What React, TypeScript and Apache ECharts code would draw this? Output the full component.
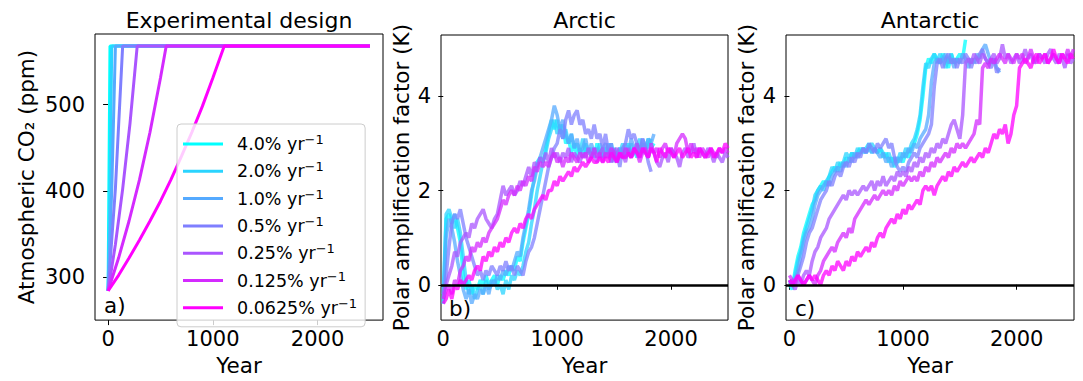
import React, { useEffect, useRef } from "react";
import * as echarts from "echarts";

const FONT = "DejaVu Sans";
const RATES = ["4.0%", "2.0%", "1.0%", "0.5%", "0.25%", "0.125%", "0.0625%"];
const COLORS = ["#00ffff", "#2ad4ff", "#55aaff", "#7f7fff", "#aa55ff", "#d42aff", "#ff00ff"];

// Panel a: CO2 ramps (year, ppm)
const CO2_YEARS = [
  [0, 18, 2500],
  [0, 18, 35, 2500],
  [0, 35, 70, 2500],
  [0, 70, 139, 2500],
  [0, 70, 139, 209, 278, 2500],
  [0, 100, 200, 300, 400, 500, 555, 2500],
  [0, 100, 200, 300, 400, 500, 600, 700, 800, 900, 1000, 1109, 2500],
];
const CO2_PPM = [
  [284, 568, 568],
  [284, 404, 568, 568],
  [284, 402, 568, 568],
  [284, 403, 568, 568],
  [284, 338, 402, 478, 568, 568],
  [284, 322, 365, 413, 468, 531, 568, 568],
  [284, 302, 322, 343, 365, 388, 413, 440, 468, 498, 531, 568, 568],
];

// Panels b, c: values every 25 years starting at year 0
const YEAR_STEP = 25;

const ARCTIC_40 = [-0.4,1.4,1.5,1.3,1.5,1.2,0.9,0.2,-0.1,0.1,-0.2,0.0,-0.1,0.1,0.0,0.2,0.0,0.1,0.2,0.0,0.2,0.1,0.3,0.2,0.4,0.3,0.6,0.5,0.9,1.2,1.5,1.9,2.3,2.6,2.7,2.6,2.9,3.2,3.5,3.3,3.5,3.2,3.4,3.0,3.1,2.8,3.0,2.7,2.9,2.7,3.0,2.8,2.9,2.7,3.0,2.8,2.7,2.9,2.8,3.0,2.7,2.8,2.9,2.7,2.8,3.0,2.8,2.9,2.7,2.9,3.0,2.8,3.1,2.9,3.0];
const ARCTIC_20 = [-0.2,1.5,1.6,1.4,1.2,1.4,1.1,0.6,0.1,-0.2,0.0,-0.3,-0.1,0.0,-0.2,0.1,-0.1,0.0,0.1,-0.1,0.0,-0.2,0.1,-0.1,0.2,0.1,0.3,0.2,0.4,0.7,0.9,1.3,1.6,2.0,2.3,2.6,2.8,3.1,3.3,3.5,3.2,3.4,3.1,3.3,3.0,3.2,2.9,3.0,2.8,3.1,2.8,2.9,2.7,2.9,2.8,3.0,2.7,2.8,3.0,2.7,2.9,2.6,2.8,3.0,2.7,2.8,3.0,2.8,2.9,3.1,2.8,3.0,2.9,3.1];
const ARCTIC_10 = [-0.4,1.0,1.4,1.2,0.9,0.5,0.2,-0.1,-0.3,-0.1,-0.4,-0.2,-0.3,-0.1,-0.2,0.0,-0.2,0.1,0.0,0.2,0.1,0.3,0.2,0.4,0.3,0.5,0.7,0.6,1.0,1.3,1.6,2.0,2.2,2.5,2.7,2.9,3.1,3.3,3.5,3.8,3.6,3.3,3.5,3.2,3.0,3.2,2.9,3.1,2.8,2.9,3.1,2.8,3.0,2.8,2.9,2.7,2.9,3.0,2.8,2.6,2.9,2.7,2.9,2.8,3.0,2.8,3.1,2.9,3.0,2.8,3.1,2.9,3.1,3.0,3.2];
const ARCTIC_05 = [-0.3,0.2,0.8,1.3,1.5,1.4,1.6,1.3,1.0,0.8,0.6,0.4,0.2,0.3,0.1,0.3,0.2,0.4,0.3,0.2,0.4,0.3,0.5,0.3,0.4,0.2,0.4,0.3,0.2,0.5,0.7,0.8,1.0,1.3,1.6,1.9,2.2,2.5,2.7,2.9,3.0,3.3,3.1,3.5,3.7,3.4,3.6,3.7,3.4,3.5,3.2,3.3,3.1,3.4,3.1,3.2,2.9,3.2,2.8,3.0,2.6,2.8,2.5,2.9,3.0,3.3,3.1,3.2,3.0,2.8,3.1,2.9,2.6,2.4];
const ARCTIC_025 = [-0.2,0.0,0.2,0.4,0.7,0.6,0.9,1.0,1.1,1.0,1.3,1.2,1.4,1.5,1.6,1.4,1.3,1.2,1.4,1.5,1.8,2.1,1.9,2.0,2.1,1.9,2.0,2.2,2.1,2.3,2.5,2.3,2.6,2.5,2.7,2.6,2.8,2.6,2.9,2.7,2.8,2.6,2.8,2.7,2.9,2.6,2.8,2.7,2.6,2.8,2.7,2.9,2.7,2.8,2.6,2.8,2.9,2.7,2.8,2.6,2.8,2.9,2.7,2.8,2.6,2.9,2.7,2.8,3.0,2.7,2.9,2.8,2.7,2.9,2.8,2.6,2.5,2.7,2.8,2.6,2.9,2.8,2.7,2.5,2.8,2.9,2.7,2.8,3.0,2.7,2.9,2.8,2.7,2.9,2.8,2.6,2.8,2.7,2.6,2.8,2.7];
const ARCTIC_0125 = [-0.3,-0.1,0.0,-0.2,0.1,0.0,0.3,0.4,0.6,0.5,0.8,0.7,0.9,0.8,1.0,0.9,1.1,1.2,1.3,1.4,1.6,1.8,1.7,1.9,2.0,1.9,2.1,2.0,2.2,2.1,2.3,2.2,2.5,2.4,2.6,2.5,2.6,2.5,2.7,2.8,2.6,2.7,2.5,2.7,2.6,2.8,2.7,2.6,2.8,2.7,2.8,2.6,2.7,2.9,2.7,2.8,2.6,2.8,2.7,2.9,2.8,2.6,2.8,2.7,2.9,2.8,2.7,2.9,2.8,2.6,2.8,2.9,2.7,3.0,2.8,2.9,2.7,2.9,3.0,2.8,2.9,2.7,3.0,3.1,3.2,3.1,2.8,3.0,2.8,2.9,2.7,2.9,2.8,2.7,2.9,2.8,2.7,2.9,2.8,2.9,2.8];
const ARCTIC_00625 = [-0.4,-0.3,-0.1,-0.3,0.0,-0.1,0.1,0.0,0.1,0.2,0.1,0.3,0.4,0.3,0.6,0.5,0.7,0.6,0.8,0.7,0.9,0.8,1.0,0.9,1.1,1.2,1.1,1.3,1.2,1.4,1.5,1.4,1.6,1.7,1.8,1.9,1.8,2.0,2.0,2.2,2.1,2.3,2.2,2.3,2.4,2.3,2.5,2.4,2.5,2.6,2.5,2.6,2.7,2.6,2.6,2.7,2.6,2.7,2.6,2.8,2.7,2.6,2.8,2.7,2.7,2.8,2.7,2.9,2.8,2.7,2.9,2.8,2.7,2.9,2.8,2.6,2.9,2.8,2.7,2.9,2.8,2.7,2.8,2.9,2.7,2.8,2.9,2.7,2.8,2.7,2.9,2.8,2.7,2.8,2.9,2.7,2.8,2.9,2.8,3.0,2.9];

const ANTARCTIC_40 = [0.0,-0.1,0.3,0.6,0.8,1.1,1.3,1.5,1.7,1.8,2.0,2.1,2.2,2.1,2.3,2.4,2.5,2.4,2.6,2.5,2.7,2.6,2.8,2.7,2.8,2.9,2.8,2.9,3.0,2.8,2.9,2.8,2.9,2.7,2.8,2.6,2.7,2.5,2.6,2.7,2.6,2.8,2.7,2.9,3.0,3.2,3.5,4.0,4.6,4.8,4.7,4.9,4.8,4.7,4.9,4.8,4.6,4.9,4.7,4.8,4.9,4.8,5.2];
const ANTARCTIC_20 = [0.1,0.0,0.2,0.5,0.7,1.0,1.2,1.4,1.6,1.9,2.0,2.1,2.0,2.2,2.3,2.5,2.4,2.6,2.5,2.6,2.8,2.7,2.8,2.7,2.9,2.8,2.9,2.8,2.9,3.0,2.9,2.8,2.9,2.8,2.7,2.8,2.6,2.7,2.6,2.8,2.7,2.9,2.8,3.0,3.1,3.3,3.6,4.2,4.7,4.6,4.8,4.9,4.7,4.9,4.8,4.6,4.8,4.9,4.7,4.8,4.7];
const ANTARCTIC_10 = [0.0,0.1,0.1,0.3,0.6,0.9,1.1,1.2,1.4,1.7,1.9,2.0,2.1,2.2,2.1,2.3,2.4,2.5,2.4,2.6,2.5,2.7,2.6,2.8,2.7,2.8,2.9,2.8,2.9,2.8,2.9,2.8,2.7,2.8,2.6,2.7,2.5,2.6,2.7,2.6,2.8,2.7,2.9,2.8,3.0,2.9,3.1,3.2,3.3,3.6,4.3,4.7,4.8,4.7,4.8,4.9,4.7,4.8,4.6,4.8,4.7,4.9,4.8,4.6,4.8,4.7,4.9,4.8,5.0,5.1,4.9,4.7,4.8,4.6,4.5];
const ANTARCTIC_05 = [0.1,0.0,0.1,0.2,0.4,0.6,0.9,1.1,1.2,1.4,1.6,1.8,1.9,2.0,2.2,2.1,2.3,2.4,2.3,2.5,2.6,2.5,2.7,2.6,2.8,2.7,2.9,2.8,3.0,2.9,2.8,3.0,2.9,3.0,3.1,2.9,3.0,2.7,2.5,2.4,2.5,2.4,2.6,2.7,2.8,2.7,2.9,3.0,3.1,3.2,3.4,4.2,4.7,4.8,4.6,4.8,4.9,4.7,4.8,4.6,4.8,4.7,4.9,4.8,4.6,4.8,4.7,4.9,5.0,4.8,4.7,4.6,4.8,4.5,4.6];
const ANTARCTIC_025 = [0.1,0.0,-0.1,0.1,0.0,0.2,0.3,0.2,0.5,0.7,0.8,1.0,1.1,1.2,1.4,1.5,1.6,1.7,1.8,1.9,1.8,2.0,1.9,2.0,1.9,2.0,2.1,2.0,2.1,2.2,2.0,2.2,2.1,2.3,2.1,2.2,2.3,2.2,2.4,2.3,2.4,2.3,2.5,2.4,2.6,2.5,2.7,2.6,2.8,2.7,2.9,2.8,3.0,2.9,3.1,3.0,3.2,3.4,3.5,3.3,3.1,3.6,4.7,4.8,4.7,4.9,4.8,4.7,4.9,4.8,4.7,4.8,4.9,4.7,4.8,5.1,4.8,4.9,4.7,4.8,4.9,4.7,4.8,5.0,4.8,4.9,4.7,4.8,4.9,4.8,4.7,4.9,5.0,4.8,4.7,4.9,4.8,4.6,4.9,4.7,4.8];
const ANTARCTIC_0125 = [0.2,0.1,0.0,0.2,0.1,0.0,0.1,0.2,0.1,0.0,0.2,0.3,0.5,0.6,0.7,0.8,0.7,0.9,1.0,1.1,1.0,1.2,1.1,1.4,1.5,1.6,1.7,1.8,1.7,1.8,1.9,1.8,1.9,2.0,1.9,2.0,1.9,2.1,2.0,2.2,2.1,2.2,2.3,2.2,2.3,2.2,2.4,2.3,2.5,2.4,2.6,2.5,2.7,2.6,2.7,2.8,2.7,2.9,2.8,3.0,2.9,3.0,2.9,3.0,3.1,3.2,3.5,3.4,4.6,4.7,4.6,4.8,4.7,4.8,4.9,4.8,4.7,4.9,4.8,4.7,4.9,4.8,4.9,4.7,4.8,5.0,4.8,4.7,4.9,4.8,4.9,4.7,4.8,4.9,4.8,4.7,4.9,4.8,5.0,4.8,5.0];
const ANTARCTIC_00625 = [0.1,0.0,0.1,0.2,0.1,0.0,0.1,0.2,0.1,0.2,0.1,0.0,0.2,0.3,0.2,0.4,0.3,0.5,0.4,0.3,0.5,0.4,0.6,0.5,0.7,0.6,0.7,0.8,0.7,0.9,0.8,1.0,1.1,1.0,1.2,1.3,1.4,1.3,1.5,1.4,1.6,1.5,1.7,1.6,1.7,1.8,1.7,2.0,2.1,2.0,2.1,1.9,2.1,2.2,2.3,2.2,2.4,2.3,2.5,2.4,2.5,2.6,2.5,2.6,2.7,2.6,2.7,2.8,2.7,2.9,2.8,3.0,3.2,3.1,3.3,3.2,3.4,3.0,3.2,3.6,3.8,4.6,4.7,4.8,4.7,4.6,4.8,4.9,4.7,4.8,4.9,4.7,4.8,5.0,4.8,4.7,4.9,4.8,4.7,4.9,4.8];

const ARCTIC = [ARCTIC_40, ARCTIC_20, ARCTIC_10, ARCTIC_05, ARCTIC_025, ARCTIC_0125, ARCTIC_00625];
const ANTARCTIC = [ANTARCTIC_40, ANTARCTIC_20, ANTARCTIC_10, ANTARCTIC_05, ANTARCTIC_025, ANTARCTIC_0125, ANTARCTIC_00625];

const X_TICKS = [0, 1000, 2000];
const CO2_TICKS = [300, 400, 500];
const PA_TICKS = [0, 2, 4];

const GRIDS = [
  { left: 95, top: 34, width: 288, height: 289 },
  { left: 441, top: 35, width: 287, height: 288 },
  { left: 786, top: 35, width: 288, height: 288 },
];

const tick = { fontSize: 21, fontFamily: FONT, color: "#000" };
const lab = { fontSize: 21.5, fontFamily: FONT, color: "#000" };
const plain = (v: number) => String(v);

function xAxis(gridIndex: number, min: number, max: number) {
  return {
    type: "value", gridIndex, min, max,
    axisLine: { show: false }, splitLine: { show: false },
    axisTick: { show: true, length: 5, lineStyle: { color: "#000", width: 1 }, customValues: X_TICKS },
    axisLabel: { ...tick, margin: 8, customValues: X_TICKS, formatter: plain },
    name: "Year", nameLocation: "middle", nameGap: 32, nameTextStyle: lab,
  };
}
function yAxis(gridIndex: number, min: number, max: number, ticks: number[], name: string, gap: number) {
  return {
    type: "value", gridIndex, min, max,
    axisLine: { show: false }, splitLine: { show: false },
    axisTick: { show: true, length: 5, lineStyle: { color: "#000", width: 1 }, customValues: ticks },
    axisLabel: { ...tick, margin: 10, customValues: ticks, formatter: plain },
    name, nameLocation: "middle", nameGap: gap, nameTextStyle: lab,
  };
}

export default function App() {
  const ref = useRef<HTMLDivElement>(null);
  useEffect(() => {
    if (!ref.current) return;
    const chart = echarts.init(ref.current, null, { renderer: "svg" });
    const series: any[] = [];
    RATES.forEach((name, i) => {
      series.push({
        type: "line", name, xAxisIndex: 0, yAxisIndex: 0,
        data: CO2_YEARS[i].map((y, k) => [y, CO2_PPM[i][k]]),
        showSymbol: false, symbol: "none", clip: true,
        lineStyle: { color: COLORS[i], width: 3 }, itemStyle: { color: COLORS[i] },
        z: 2,
      });
    });
    [ARCTIC, ANTARCTIC].forEach((set, p) => {
      set.forEach((vals, i) => {
        series.push({
          type: "line", name: (p === 0 ? "Arctic " : "Antarctic ") + RATES[i],
          xAxisIndex: p + 1, yAxisIndex: p + 1,
          data: vals.map((v, k) => [k * YEAR_STEP, v]),
          showSymbol: false, symbol: "none", clip: true,
          lineStyle: { color: COLORS[i], width: 3.5, opacity: 0.75 }, itemStyle: { color: COLORS[i] },
          z: 2,
        });
      });
      series.push({
        type: "line", name: "zero" + p, xAxisIndex: p + 1, yAxisIndex: p + 1, data: [], z: 3,
        markLine: {
          silent: true, symbol: ["none", "none"], label: { show: false },
          lineStyle: { color: "#000", width: 2.5, type: "solid" },
          data: [{ yAxis: 0 }],
        },
      });
    });

    chart.setOption({
      animation: false,
      grid: GRIDS.map((g) => ({ ...g, show: true, borderColor: "#000", borderWidth: 1, backgroundColor: "transparent", containLabel: false })),
      xAxis: [xAxis(0, -125, 2625), xAxis(1, -20, 2500), xAxis(2, -30, 2505)],
      yAxis: [
        yAxis(0, 250, 582, CO2_TICKS, "Atmospheric CO₂ (ppm)", 58),
        yAxis(1, -0.75, 5.3, PA_TICKS, "Polar amplification factor (K)", 29),
        yAxis(2, -0.75, 5.3, PA_TICKS, "Polar amplification factor (K)", 29),
      ],
      legend: {
        data: RATES, orient: "vertical", left: 177, top: 124,
        selectedMode: false, icon: "rect", itemWidth: 40, itemHeight: 3, itemGap: 5.3,
        padding: [9, 8, 8, 6],
        backgroundColor: "rgba(255,255,255,0.8)", borderColor: "#cccccc", borderWidth: 1, borderRadius: 4,
        formatter: (name: string) => `{n|${name} yr}{s|−1}`,
        textStyle: {
          fontSize: 17.5, fontFamily: FONT, color: "#000", lineHeight: 20, padding: [0, 0, 0, 9],
          rich: {
            n: { fontSize: 17.5, fontFamily: FONT, color: "#000", lineHeight: 20 },
            s: { fontSize: 13, fontFamily: FONT, color: "#000", lineHeight: 20, padding: [0, 0, 9, 0] },
          },
        },
      },
      graphic: [
        { type: "text", style: { text: "Experimental design", x: 239, y: 20, align: "center", verticalAlign: "middle", fontSize: 22, fontFamily: FONT, fill: "#000" } },
        { type: "text", style: { text: "Arctic", x: 584.5, y: 20, align: "center", verticalAlign: "middle", fontSize: 22, fontFamily: FONT, fill: "#000" } },
        { type: "text", style: { text: "Antarctic", x: 930, y: 20, align: "center", verticalAlign: "middle", fontSize: 22, fontFamily: FONT, fill: "#000" } },
        { type: "text", style: { text: "a)", x: 104, y: 305, verticalAlign: "middle", fontSize: 21.5, fontFamily: FONT, fill: "#000" } },
        { type: "text", style: { text: "b)", x: 449, y: 308, verticalAlign: "middle", fontSize: 21.5, fontFamily: FONT, fill: "#000" } },
        { type: "text", style: { text: "c)", x: 795, y: 308, verticalAlign: "middle", fontSize: 21.5, fontFamily: FONT, fill: "#000" } },
      ],
      series,
    });
    return () => chart.dispose();
  }, []);
  return <div ref={ref} style={{ position: "fixed", left: 0, top: 0, width: 1083, height: 381, background: "#fff" }} />;
}
